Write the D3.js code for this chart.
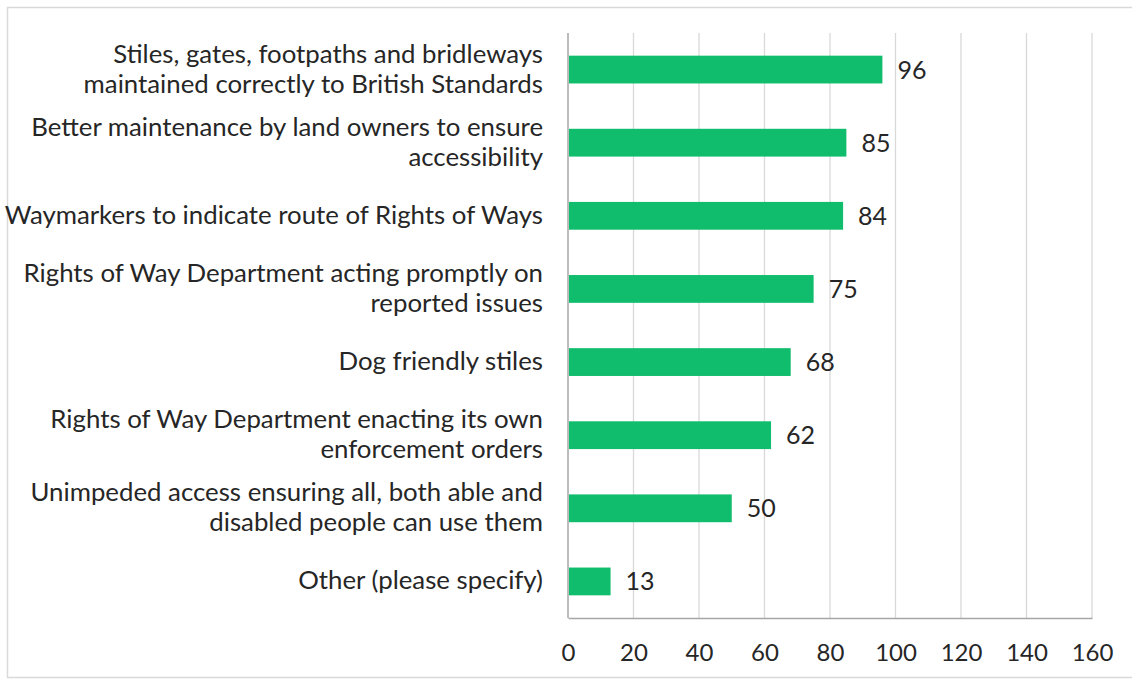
<!DOCTYPE html>
<html><head><meta charset="utf-8">
<script src="https://cdn.jsdelivr.net/npm/d3@7"></script>
<style>
html,body{margin:0;padding:0;background:#fff;}
svg{display:block;}
text{font-family:Lato, "Open Sans", sans-serif;fill:#262626;}
</style></head>
<body>
<script>
const categories = [
  ["Stiles, gates, footpaths and bridleways", "maintained correctly to British Standards"],
  ["Better maintenance by land owners to ensure", "accessibility"],
  ["Waymarkers to indicate route of Rights of Ways"],
  ["Rights of Way Department acting promptly on", "reported issues"],
  ["Dog friendly stiles"],
  ["Rights of Way Department enacting its own", "enforcement orders"],
  ["Unimpeded access ensuring all, both able and", "disabled people can use them"],
  ["Other (please specify)"]
];
const values = [96, 85, 84, 75, 68, 62, 50, 13];
const tickValues = [0, 20, 40, 60, 80, 100, 120, 140, 160];

(function () {
const W = 1132, H = 680;
const svg = d3.select("body").append("svg").attr("width", W).attr("height", H);

// outer frame
svg.append("rect").attr("x", 7.5).attr("y", 7.5).attr("width", W + 10).attr("height", 670)
  .attr("fill", "none").attr("stroke", "#d9d9d9").attr("stroke-width", 1.5);

const pL = 568, pR = 1092, pT = 33, pB = 618;
const x = d3.scaleLinear().domain([0, 160]).range([pL, pR]);
const y = d3.scaleBand().domain(d3.range(values.length)).range([pT, pB]).paddingInner(0.62).paddingOuter(0.31);

// gridlines
svg.append("g").selectAll("line").data(tickValues.slice(1)).join("line")
  .attr("x1", d => x(d)).attr("x2", d => x(d)).attr("y1", pT).attr("y2", pB)
  .attr("stroke", "#d9d9d9").attr("stroke-width", 1.3);

// x axis
const xAxis = d3.axisBottom(x).tickValues(tickValues).tickSize(0).tickPadding(26);
const gx = svg.append("g").attr("transform", `translate(0,${pB})`).call(xAxis);
gx.select(".domain").attr("stroke", "#a6a6a6").attr("stroke-width", 1.5);
gx.selectAll("text").attr("font-size", 24).attr("font-family", "Lato, sans-serif").attr("fill", "#262626");

// left axis line
svg.append("line").attr("x1", pL).attr("x2", pL).attr("y1", pT).attr("y2", pB)
  .attr("stroke", "#a6a6a6").attr("stroke-width", 1.5);

// bars
svg.append("g").selectAll("rect").data(values).join("rect")
  .attr("x", x(0) + 1).attr("y", (d, i) => y(i))
  .attr("width", d => x(d) - x(0) - 1).attr("height", y.bandwidth())
  .attr("fill", "#10bd6c");

// value labels
svg.append("g").selectAll("text").data(values).join("text")
  .attr("x", d => x(d) + 15).attr("y", (d, i) => y(i) + y.bandwidth() / 2 + 9)
  .attr("font-size", 25).text(d => d);

// category labels
const lh = 30;
const cg = svg.append("g");
categories.forEach((lines, i) => {
  const cy = y(i) + y.bandwidth() / 2;
  const t = cg.append("text").attr("text-anchor", "end").attr("font-size", 25.8);
  lines.forEach((ln, j) => {
    t.append("tspan").attr("x", 543)
      .attr("y", cy + (j - (lines.length - 1) / 2) * lh + 8)
      .text(ln);
  });
});
})();
</script>
</body></html>
